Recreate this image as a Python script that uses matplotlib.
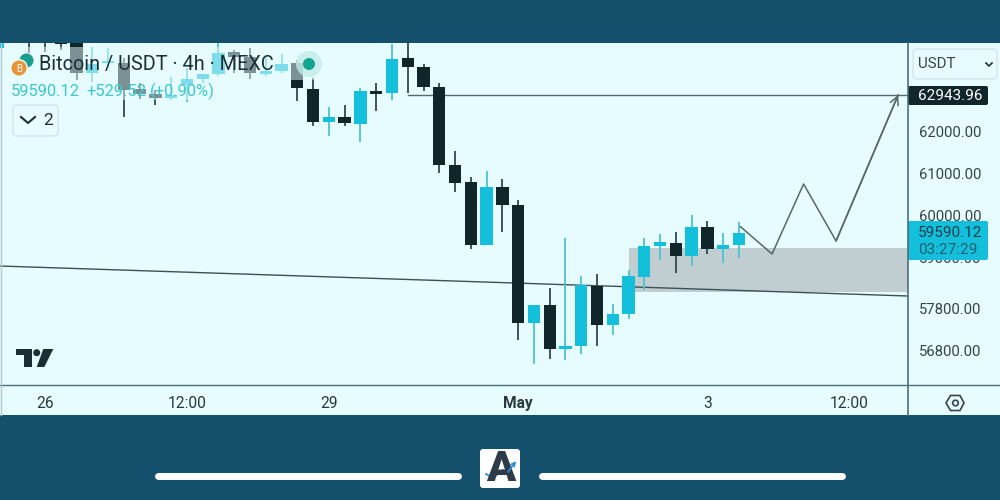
import matplotlib
matplotlib.use('Agg')
import matplotlib.pyplot as plt
import numpy as np
from matplotlib.patches import Rectangle, FancyBboxPatch, Circle, Polygon

plt.rcParams['font.family'] = ['Roboto', 'DejaVu Sans']

# 4h candles, index 0 is the "26" tick
candle_index = list(range(-3, 45))
opens = [63990, 64700, 64500, 64400, 64300, 64130, 63412, 63643, 63650, 63017, 62898, 62802,
         63119, 63262, 63374, 63898, 63793, 63381, 63445, 63636, 63017, 62245,
         62364, 62190, 62983, 62921, 63755, 63555, 63079, 61214, 60802, 59302,
         60698, 60262, 57459, 57888, 56826, 56912, 58340, 57405, 57659, 58555,
         59286, 59350, 59055, 59745, 59207, 59302]
closes = [64300, 64500, 64300, 64250, 64090, 63412, 63619, 63690, 63000, 62905, 62802, 62881,
          63255, 63381, 63888, 63793, 63398, 63452, 63619, 63040, 62245, 62364,
          62214, 62983, 62912, 63745, 63548, 63064, 61207, 60793, 59302, 60698,
          60255, 57459, 57888, 56826, 56897, 58364, 57405, 57659, 58571, 59286,
          59374, 59055, 59745, 59207, 59302, 59590.12]
highs = [64400, 64800, 64600, 64500, 64300, 64300, 64031, 64000, 63762, 63167, 63000, 63317,
         63524, 63381, 64119, 63952, 64000, 63810, 63850, 63714, 63286, 62602,
         62643, 63048, 63167, 64095, 64300, 63619, 63174, 61548, 60936, 61071,
         60874, 60381, 57888, 58278, 59469, 58571, 58612, 57905, 58714, 59469,
         59571, 59626, 60024, 59881, 59602, 59864]
lows = [63950, 64400, 63880, 63905, 63950, 63238, 63198, 63524, 62364, 62786, 62643, 62762,
        62714, 63167, 63333, 63405, 63262, 63333, 63405, 62738, 62143, 61912,
        62143, 61762, 62507, 62762, 62936, 62983, 61024, 60571, 59221, 59302,
        59619, 57048, 56476, 56602, 56571, 56707, 56905, 57167, 57548, 58238,
        58952, 58650, 58809, 59095, 58874, 58993]

price_ticks = [62000, 61000, 60000, 59000, 57800, 56800]
time_ticks = [0, 9, 18, 30, 42, 51]
time_labels = ['26', '12:00', '29', 'May', '3', '12:00']

# drawings on the chart
trend_x = [-2.853, 54.72]
trend_y = [58809, 58095]
target_x = [23, 54.72]
target_y = [62885, 62885]
path_x = [44.1, 46.1, 48.1, 50.16, 54.1]
path_y = [59745, 59095, 60762, 59405, 62885]
zone_x = [37, 54.72]
zone_y = [58190, 59238]

band = '#14506b'
bg = '#e6fcff'
up = '#14bfdc'
down = '#10262b'
up_wick = '#4cc4d0'
down_wick = '#33474c'
line_col = '#55686e'

fig = plt.figure(figsize=(10, 5), dpi=100, facecolor=band)

# panel behind everything
back = fig.add_axes([0, 0, 1, 1], zorder=0)
back.set_xlim(0, 1000)
back.set_ylim(500, 0)
back.axis('off')
back.add_patch(Rectangle((0, 43), 1000, 372, facecolor=bg, edgecolor='none'))

ax = fig.add_axes([0, 1 - 385 / 500, 0.908, 342 / 500], zorder=1)
ax.patch.set_alpha(0)
ax.set_xlim(-2.853, 54.72)
ax.set_ylim(55976, 64119)
for s in ax.spines.values():
    s.set_visible(False)

ax.add_patch(Rectangle((zone_x[0], zone_y[0]), zone_x[1] - zone_x[0], zone_y[1] - zone_y[0],
                       facecolor='#c0ced2', edgecolor='none', zorder=1))
ax.plot(trend_x, trend_y, color='#3d5056', lw=1, zorder=2)
ax.plot(target_x, target_y, color=line_col, lw=1, zorder=2)

for i, o, c, h, l in zip(candle_index, opens, closes, highs, lows):
    rising = c >= o
    ax.vlines(i, l, h, color=up_wick if rising else down_wick, lw=1.3, zorder=3)
    ax.bar(i, abs(c - o), bottom=min(o, c), width=0.78, color=up if rising else down, zorder=4)

ax.plot(path_x, path_y, color=line_col, lw=1.1, zorder=5)
ax.annotate('', xy=(path_x[-1], path_y[-1]), xytext=(path_x[-2], path_y[-2]), zorder=5,
            arrowprops=dict(arrowstyle='->', color=line_col, lw=1.1, mutation_scale=15,
                            shrinkA=0, shrinkB=0))

ax.set_xticks(time_ticks)
ax.set_xticklabels(time_labels, fontsize=11.2, color='#27383e')
ax.get_xticklabels()[3].set_fontweight('bold')
ax.yaxis.tick_right()
ax.set_yticks(price_ticks)
ax.set_yticklabels(['%.2f' % p for p in price_ticks], fontsize=10.7, color='#33454b')
ax.tick_params(axis='x', length=0, pad=8)
ax.tick_params(axis='y', length=0, pad=8)

# everything that sits on top of the chart
ui = fig.add_axes([0, 0, 1, 1], zorder=2)
ui.set_xlim(0, 1000)
ui.set_ylim(500, 0)
ui.axis('off')
ui.patch.set_alpha(0)

# legend fades the candles under it
ui.add_patch(Rectangle((10, 47), 312, 33, facecolor=bg, edgecolor='none', alpha=0.5))
ui.add_patch(Rectangle((10, 80), 208, 20, facecolor=bg, edgecolor='none', alpha=0.5))

ui.plot([908, 908], [43, 415], color='#4f6d78', lw=1.2)
ui.plot([0, 1000], [385, 385], color='#4f6d78', lw=1)
ui.plot([0.5, 0.5], [43, 415], color='#b4c8ce', lw=1)

# coin icons
ui.add_patch(Circle((26.5, 60.5), 7, facecolor='#1a9c8f', edgecolor='none'))
ui.add_patch(Circle((19, 68), 9, facecolor=bg, edgecolor='none'))
ui.add_patch(Circle((19, 68), 7.5, facecolor='#e8953a', edgecolor='none'))
ui.text(19, 68.5, 'B', fontsize=7, color='white', ha='center', va='center')

ui.text(39, 64.5, 'Bitcoin / USDT · 4h · MEXC', fontsize=14.3, color='#1c2f35', ha='left', va='center')
ui.text(11, 91, '59590.12', fontsize=11.9, color='#3cc8d0', ha='left', va='center')
ui.text(86, 91, '+529.52', fontsize=11.9, color='#3cc8d0', ha='left', va='center')
ui.text(150, 91, '(+0.90%)', fontsize=11.9, color='#3cc8d0', ha='left', va='center')

ui.add_patch(Circle((309, 64), 13, facecolor='#c4eaea', edgecolor='none', alpha=0.8))
ui.add_patch(Circle((309, 64), 6, facecolor='#14a38b', edgecolor='none'))

# collapse button
ui.add_patch(FancyBboxPatch((15, 107), 41, 27, boxstyle='round,pad=2,rounding_size=4',
                            facecolor=bg, edgecolor='#d3e6ea', lw=1))
ui.plot([21, 28, 35], [117, 123, 117], color='#1c2f35', lw=1.5)
ui.text(48, 120.5, '2', fontsize=12.5, color='#1c2f35', ha='center', va='center')

# currency selector
ui.add_patch(FancyBboxPatch((915, 51), 80, 26, boxstyle='round,pad=2,rounding_size=4',
                            facecolor=bg, edgecolor='#d3e6ea', lw=1))
ui.text(918, 64, 'USDT', fontsize=10.8, color='#33454b', ha='left', va='center')
ui.plot([986, 989, 992], [63, 66, 63], color='#1c2f35', lw=1.2)

# price labels
ui.add_patch(FancyBboxPatch((909, 87), 78, 17, boxstyle='round,pad=1,rounding_size=2',
                            facecolor=down, edgecolor='none'))
ui.text(918, 95.5, '62943.96', fontsize=11, color='white', ha='left', va='center')
ui.add_patch(FancyBboxPatch((909, 222), 78, 37, boxstyle='round,pad=1,rounding_size=2',
                            facecolor=up, edgecolor='none'))
ui.text(918, 233, '59590.12', fontsize=11, color='#17404c', ha='left', va='center')
ui.text(918, 250, '03:27:29', fontsize=11, color='#17606f', ha='left', va='center')

# tradingview mark
tv = '#1a2e35'
ui.add_patch(Polygon([(15.7, 349), (31.7, 349), (31.7, 367), (24, 367), (24, 355), (15.7, 355)],
                     facecolor=tv, edgecolor='none'))
ui.add_patch(Circle((36.7, 352.7), 3.5, facecolor=tv, edgecolor='none'))
ui.add_patch(Polygon([(43.3, 349), (53.3, 349), (44.3, 367), (36.7, 367)], facecolor=tv, edgecolor='none'))

# settings icon
ui.add_patch(Polygon([(946, 403), (950.5, 395.5), (960, 395.5), (964, 403), (960, 410.5), (950.5, 410.5)],
                     facecolor='none', edgecolor='#33454b', lw=1.2))
ui.add_patch(Circle((955.5, 403), 2.8, facecolor='none', edgecolor='#33454b', lw=1.2))

# bottom strip
ui.plot([158, 458], [475.5, 475.5], color='white', lw=5, solid_capstyle='round')
ui.plot([542, 842], [475.5, 475.5], color='white', lw=5, solid_capstyle='round')
ui.add_patch(FancyBboxPatch((482, 451), 36, 35, boxstyle='round,pad=2,rounding_size=3',
                            facecolor='white', edgecolor='none'))
ui.text(500.5, 469.5, 'A', fontsize=31, fontweight='black', color='#2d3a48', ha='center', va='center')
ui.plot([486, 493, 503, 508, 515], [474, 478, 470, 472, 463], color='white', lw=2.6)
ui.annotate('', xy=(516, 461), xytext=(508, 472),
            arrowprops=dict(arrowstyle='->', color='#2b8fd8', lw=1.2, mutation_scale=7, shrinkA=0, shrinkB=0))
ui.plot([486, 493, 503, 508], [474, 478, 470, 472], color='#2b8fd8', lw=1.3)

fig.savefig('out.png', dpi=100, facecolor=band)
print('over')
